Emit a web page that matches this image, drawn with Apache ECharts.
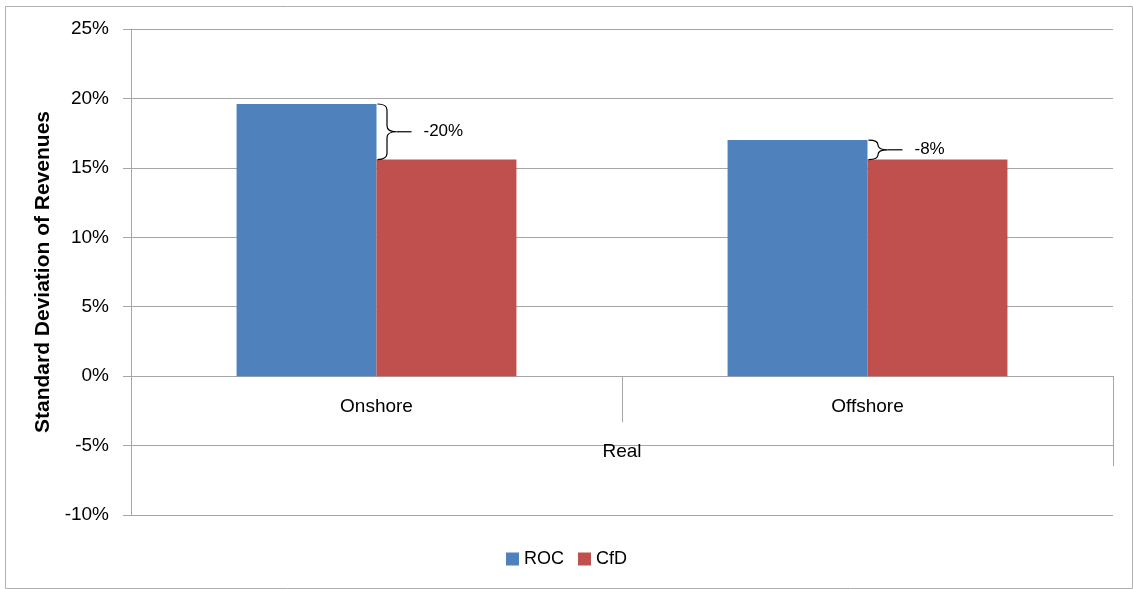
<!DOCTYPE html>
<html>
<head>
<meta charset="utf-8">
<script src="https://cdn.jsdelivr.net/npm/echarts@6/dist/echarts.min.js"></script>
<style>
html,body{margin:0;padding:0;background:#fff;}
#chart{width:1133px;height:589px;}
</style>
</head>
<body>
<div id="chart"></div>
<script>
const categories = ['Onshore', 'Offshore'];
const groupLabel = ['Real'];
const rocValues = [19.6, 17.0];
const cfdValues = [15.6, 15.6];
const changeLabels = ['-20%', '-8%'];
const seriesNames = ['ROC', 'CfD'];
const yMin = -10, yMax = 25, yStep = 5;

const FONT = 'Liberation Sans';
const GRID = '#a6a6a6';
const gridTop = 29, gridBottom = 74, chartH = 589;
const plotH = chartH - gridTop - gridBottom;
// shift bottom axes up to the zero line
const zeroOffset = -plotH * (0 - yMin) / (yMax - yMin);

const braceData = categories.map((c, i) => [i, rocValues[i], cfdValues[i], changeLabels[i]]);

const chart = echarts.init(document.getElementById('chart'));
chart.setOption({
  animation: false,
  textStyle: { fontFamily: FONT },
  graphic: [{
    type: 'rect', left: 3, top: 4, silent: true,
    shape: { width: 1127, height: 582 },
    style: { fill: 'none', stroke: '#b0b0b0', lineWidth: 1 }
  }],
  grid: { left: 131, right: 20, top: gridTop, bottom: gridBottom, outerBoundsMode: 'none', containLabel: false },
  legend: {
    data: seriesNames, bottom: 16, left: 'center',
    itemWidth: 13, itemHeight: 13, itemGap: 14,
    icon: 'rect',
    textStyle: { fontSize: 18, color: '#000', fontFamily: FONT }
  },
  xAxis: [{
    type: 'category', data: categories, position: 'bottom', offset: zeroOffset,
    axisLine: { onZero: false, lineStyle: { color: GRID } },
    axisTick: { show: true, interval: 0, length: 46, lineStyle: { color: GRID } },
    axisLabel: { fontSize: 19, color: '#000', margin: 21, fontFamily: FONT }
  }, {
    type: 'category', data: groupLabel, position: 'bottom', offset: zeroOffset,
    axisLine: { show: false, onZero: false },
    axisTick: { show: true, interval: 0, length: 90, lineStyle: { color: GRID } },
    axisLabel: { fontSize: 19, color: '#000', margin: 66, fontFamily: FONT }
  }],
  yAxis: {
    type: 'value', min: yMin, max: yMax, interval: yStep,
    name: 'Standard Deviation of Revenues', nameLocation: 'middle', nameGap: 71,
    nameTextStyle: { fontSize: 21, fontWeight: 'bold', color: '#000', fontFamily: FONT },
    axisLine: { show: true, lineStyle: { color: GRID } },
    axisTick: { show: true, length: 8, lineStyle: { color: GRID } },
    axisLabel: { formatter: '{value}%', fontSize: 19, color: '#000', margin: 22, fontFamily: FONT },
    splitLine: { show: true, lineStyle: { color: GRID } }
  },
  series: [{
    name: seriesNames[0], type: 'bar', data: rocValues, barGap: '0%', barCategoryGap: '43%',
    itemStyle: { color: '#4F81BD' }
  }, {
    name: seriesNames[1], type: 'bar', data: cfdValues, barGap: '0%', barCategoryGap: '43%',
    itemStyle: { color: '#C0504D' }
  }, {
    name: 'brace', type: 'custom', data: braceData, silent: true, z: 5,
    renderItem: function (params, api) {
      const idx = api.value(0);
      const p1 = api.coord([idx, api.value(1)]);
      const p2 = api.coord([idx, api.value(2)]);
      const x0 = p1[0] + 1, top = p1[1], bot = p2[1];
      const w = 19, mid = (top + bot) / 2, xm = x0 + w / 2;
      const r = Math.min(6, (bot - top) / 4);
      const path = 'M' + x0 + ' ' + top +
        ' Q' + xm + ' ' + top + ' ' + xm + ' ' + (top + r) +
        ' L' + xm + ' ' + (mid - r) +
        ' Q' + xm + ' ' + mid + ' ' + (x0 + w) + ' ' + mid +
        ' Q' + xm + ' ' + mid + ' ' + xm + ' ' + (mid + r) +
        ' L' + xm + ' ' + (bot - r) +
        ' Q' + xm + ' ' + bot + ' ' + x0 + ' ' + bot;
      return {
        type: 'group', children: [{
          type: 'path', shape: { pathData: path },
          style: { fill: 'none', stroke: '#000', lineWidth: 1.2 }
        }, {
          type: 'line', shape: { x1: x0 + w, y1: mid, x2: x0 + w + 15, y2: mid },
          style: { stroke: '#000', lineWidth: 1.2 }
        }, {
          type: 'text', x: x0 + w + 27, y: mid,
          style: { text: api.value(3), fontSize: 17, fontFamily: FONT, fill: '#000', verticalAlign: 'middle', align: 'left' }
        }]
      };
    }
  }]
});
</script>
</body>
</html>
